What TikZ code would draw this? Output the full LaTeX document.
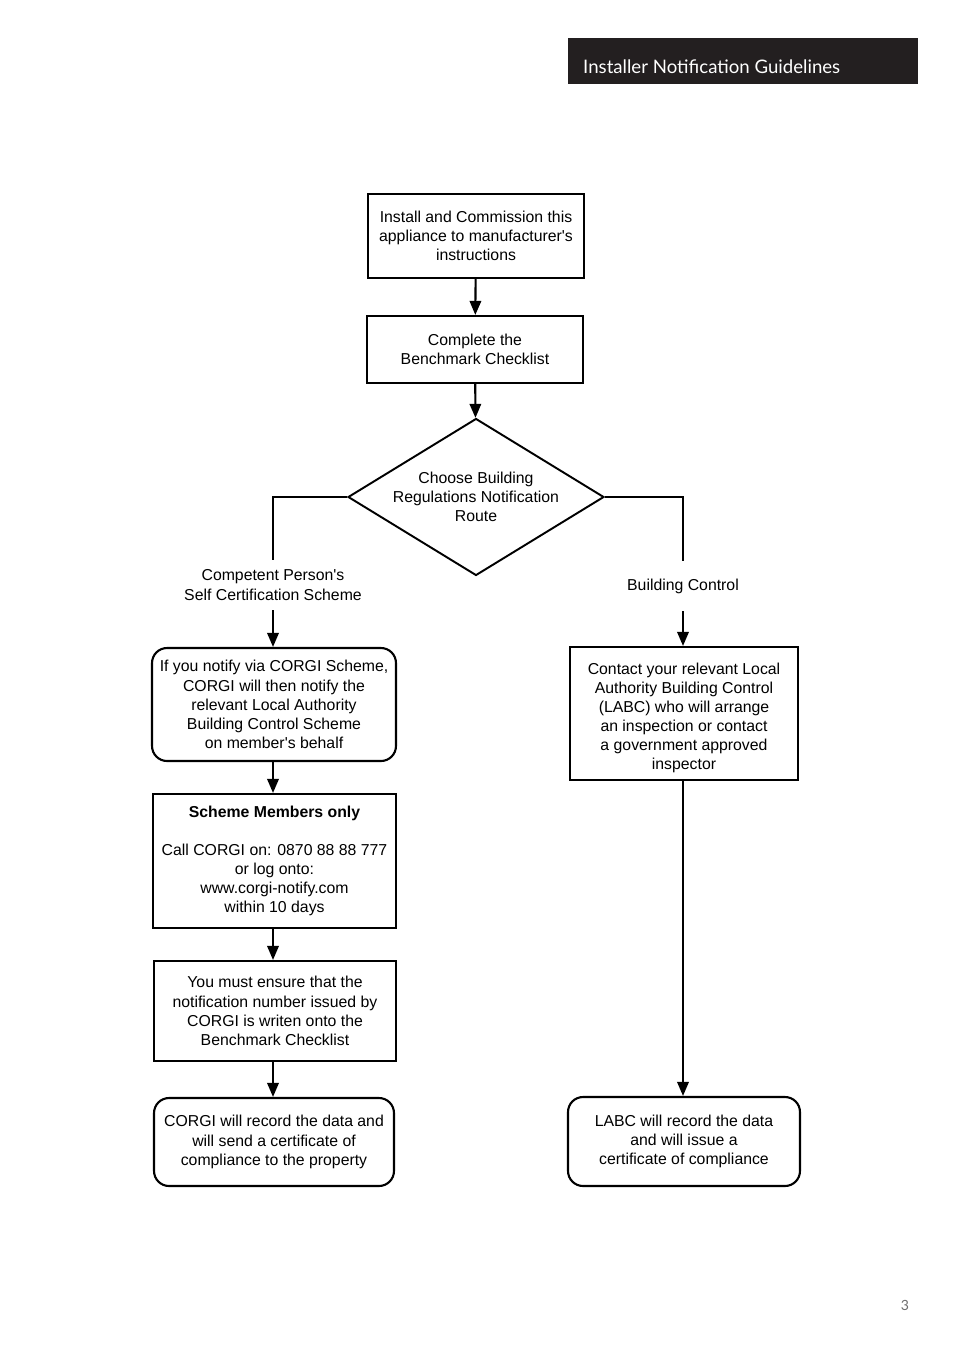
\documentclass[tikz,border=0pt]{standalone}
\usepackage{fontspec}
\setmainfont{Liberation Sans}
\newfontfamily\headfont{Lato}
\usepackage{tikz}
\usetikzlibrary{shapes.geometric, arrows.meta, positioning}
\definecolor{HDblack}{RGB}{35,31,32}
\definecolor{PGgrey}{RGB}{110,110,110}

\begin{document}
\begin{tikzpicture}[x=0.02cm, y=-0.02cm,
    every node/.style={font=\fontsize{9}{10.9}\selectfont, align=center},
    flowbox/.style={draw, line width=1.2pt, inner sep=2pt},
    softbox/.style={flowbox, rounded corners=0.3cm},
    choice/.style={draw, diamond, line width=1.1pt, inner sep=0pt, shape aspect=1.63},
    route/.style={inner sep=0pt, minimum height=1cm},
    arr/.style={line width=1.2pt, -{Triangle[length=8pt,width=6.5pt]}},
    link/.style={line width=1.2pt}]
  \useasboundingbox (0,0) rectangle (954,1349);
  \fill[HDblack] (568,38) rectangle (918,84);
  \node[anchor=west, text=white, font=\headfont\fontsize{10.6}{12}\selectfont] (head) at (577,67) {Installer Notification Guidelines};

  \node[flowbox, minimum width=4.32cm, minimum height=1.68cm] (install) at (476,236)
    {Install and Commission this\\appliance to manufacturer\textquotesingle s\\instructions};
  \node[flowbox, minimum width=4.32cm, minimum height=1.34cm] (bench) at (475,349.5)
    {Complete the\\Benchmark Checklist};
  \node[choice, minimum width=5.12cm, minimum height=3.14cm] (choose) at (476,497)
    {Choose Building\\Regulations Notification\\Route};
  \node[route] (cps) at (273,585) {Competent Person\textquotesingle s\\Self Certification Scheme};
  \node[route] (bc) at (683,586) {Building Control};

  \node[softbox, minimum width=4.88cm, minimum height=2.26cm] (notify) at (274,704.5)
    {If you notify via CORGI Scheme,\\CORGI will then notify the\\relevant Local Authority\\Building Control Scheme\\on member\textquotesingle s behalf};
  \node[flowbox, minimum width=4.86cm, minimum height=2.68cm] (members) at (274.5,861)
    {\textbf{Scheme Members only}\\[10.9pt]Call CORGI on: 0870 88 88 777\\or log onto:\\www.corgi-notify.com\\within 10 days};
  \node[flowbox, minimum width=4.84cm, minimum height=2cm] (ensure) at (275,1011)
    {You must ensure that the\\notification number issued by\\CORGI is writen onto the\\Benchmark Checklist};
  \node[softbox, minimum width=4.8cm, minimum height=1.76cm] (record) at (274,1142)
    {CORGI will record the data and\\will send a certificate of\\compliance to the property};

  \node[flowbox, minimum width=4.56cm, minimum height=2.66cm] (contact) at (684,713.5)
    {\rule{0pt}{11.5pt}Contact your relevant Local\\Authority Building Control\\(LABC) who will arrange\\an inspection or contact\\a government approved\\inspector};
  \node[softbox, minimum width=4.64cm, minimum height=1.78cm] (labc) at (684,1141.5)
    {LABC will record the data\\and will issue a\\certificate of compliance};

  \draw[arr] (install) -- (bench);
  \draw[arr] (bench) -- (choose);
  \draw[link] (choose.west) -| (cps.north);
  \draw[link] (choose.east) -| (bc.north);
  \draw[arr] (cps.south) -- (cps.south |- notify.north);
  \draw[arr] (bc.south) -- (bc.south |- contact.north);
  \draw[arr] (notify.south -| cps.south) -- (cps.south |- members.north);
  \draw[arr] (members.south -| cps.south) -- (cps.south |- ensure.north);
  \draw[arr] (ensure.south -| cps.south) -- (cps.south |- record.north);
  \draw[arr] (contact.south -| bc.south) -- (bc.south |- labc.north);

  \node[text=PGgrey, font=\headfont\fontsize{8}{10}\selectfont] (page) at (905,1305) {3};
\end{tikzpicture}
\end{document}
